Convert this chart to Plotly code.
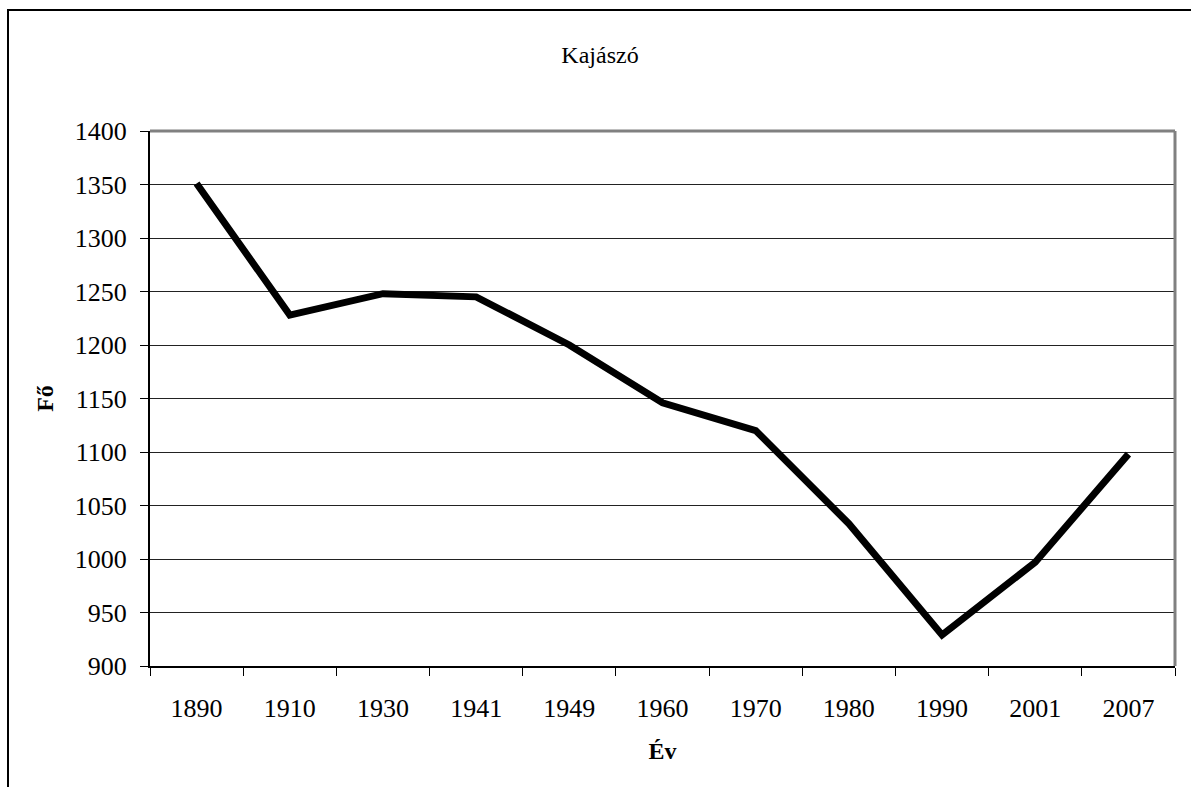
import plotly.graph_objects as go

years = ["1890", "1910", "1930", "1941", "1949", "1960", "1970", "1980", "1990", "2001", "2007"]
population = [1351, 1228, 1248, 1245, 1200, 1146, 1120, 1033, 929, 997, 1098]
y_ticks = [900, 950, 1000, 1050, 1100, 1150, 1200, 1250, 1300, 1350, 1400]

FONT = "Liberation Serif, Times New Roman, serif"

fig = go.Figure()
fig.add_trace(go.Scatter(
    x=years, y=population, mode="lines",
    line=dict(color="black", width=7),
    showlegend=False, hoverinfo="x+y",
))

L, R, T, B = 150, 16, 131, 121
W, H = 1191, 787
pw = W - L - R
ph = H - T - B

def px_to_paper_x(px):
    return (px - L) / pw

def px_to_paper_y(py):
    return (H - B - py) / ph

fig.update_layout(
    width=W, height=H,
    margin=dict(l=L, r=R, t=T, b=B, autoexpand=False),
    paper_bgcolor="white", plot_bgcolor="white",
    font=dict(family=FONT, size=26, color="black"),
    title=dict(text="Kajászó", x=600 / W, xref="container", xanchor="center",
               y=1 - 55 / H, yref="container", yanchor="middle",
               font=dict(family=FONT, size=24, color="black")),
    xaxis=dict(
        type="category", categoryorder="array", categoryarray=years,
        range=[-0.5, len(years) - 0.5],
        showgrid=False, showline=True, linecolor="black", linewidth=2,
        ticks="outside", tickson="boundaries", ticklen=8, tickcolor="black", tickwidth=1,
        tickfont=dict(family=FONT, size=26),
        ticklabelstandoff=18,
        title=dict(text="<b>Év</b>", font=dict(family=FONT, size=24), standoff=20),
        zeroline=False,
    ),
    yaxis=dict(
        range=[900, 1400], tickvals=y_ticks,
        showgrid=True, gridcolor="#222222", gridwidth=1,
        showline=True, linecolor="black", linewidth=2,
        ticks="outside", ticklen=8, tickcolor="black", tickwidth=1,
        tickfont=dict(family=FONT, size=26),
        ticklabelstandoff=8,
        title=dict(text="<b>Fő</b>", font=dict(family=FONT, size=24), standoff=14),
        zeroline=False,
    ),
    shapes=[
        dict(type="line", xref="paper", yref="paper", x0=0, x1=1, y0=1, y1=1,
             line=dict(color="#808080", width=3), layer="above"),
        dict(type="line", xref="paper", yref="paper", x0=1, x1=1, y0=0, y1=1,
             line=dict(color="#808080", width=3), layer="above"),
        dict(type="rect", xref="paper", yref="paper",
             x0=px_to_paper_x(8), x1=px_to_paper_x(1230),
             y0=px_to_paper_y(830), y1=px_to_paper_y(10),
             line=dict(color="black", width=2), fillcolor="rgba(0,0,0,0)", layer="below"),
    ],
)

fig.write_html("out.html", config={"displayModeBar": False},
               post_script="document.body.style.margin='0';document.body.style.overflow='hidden';")
